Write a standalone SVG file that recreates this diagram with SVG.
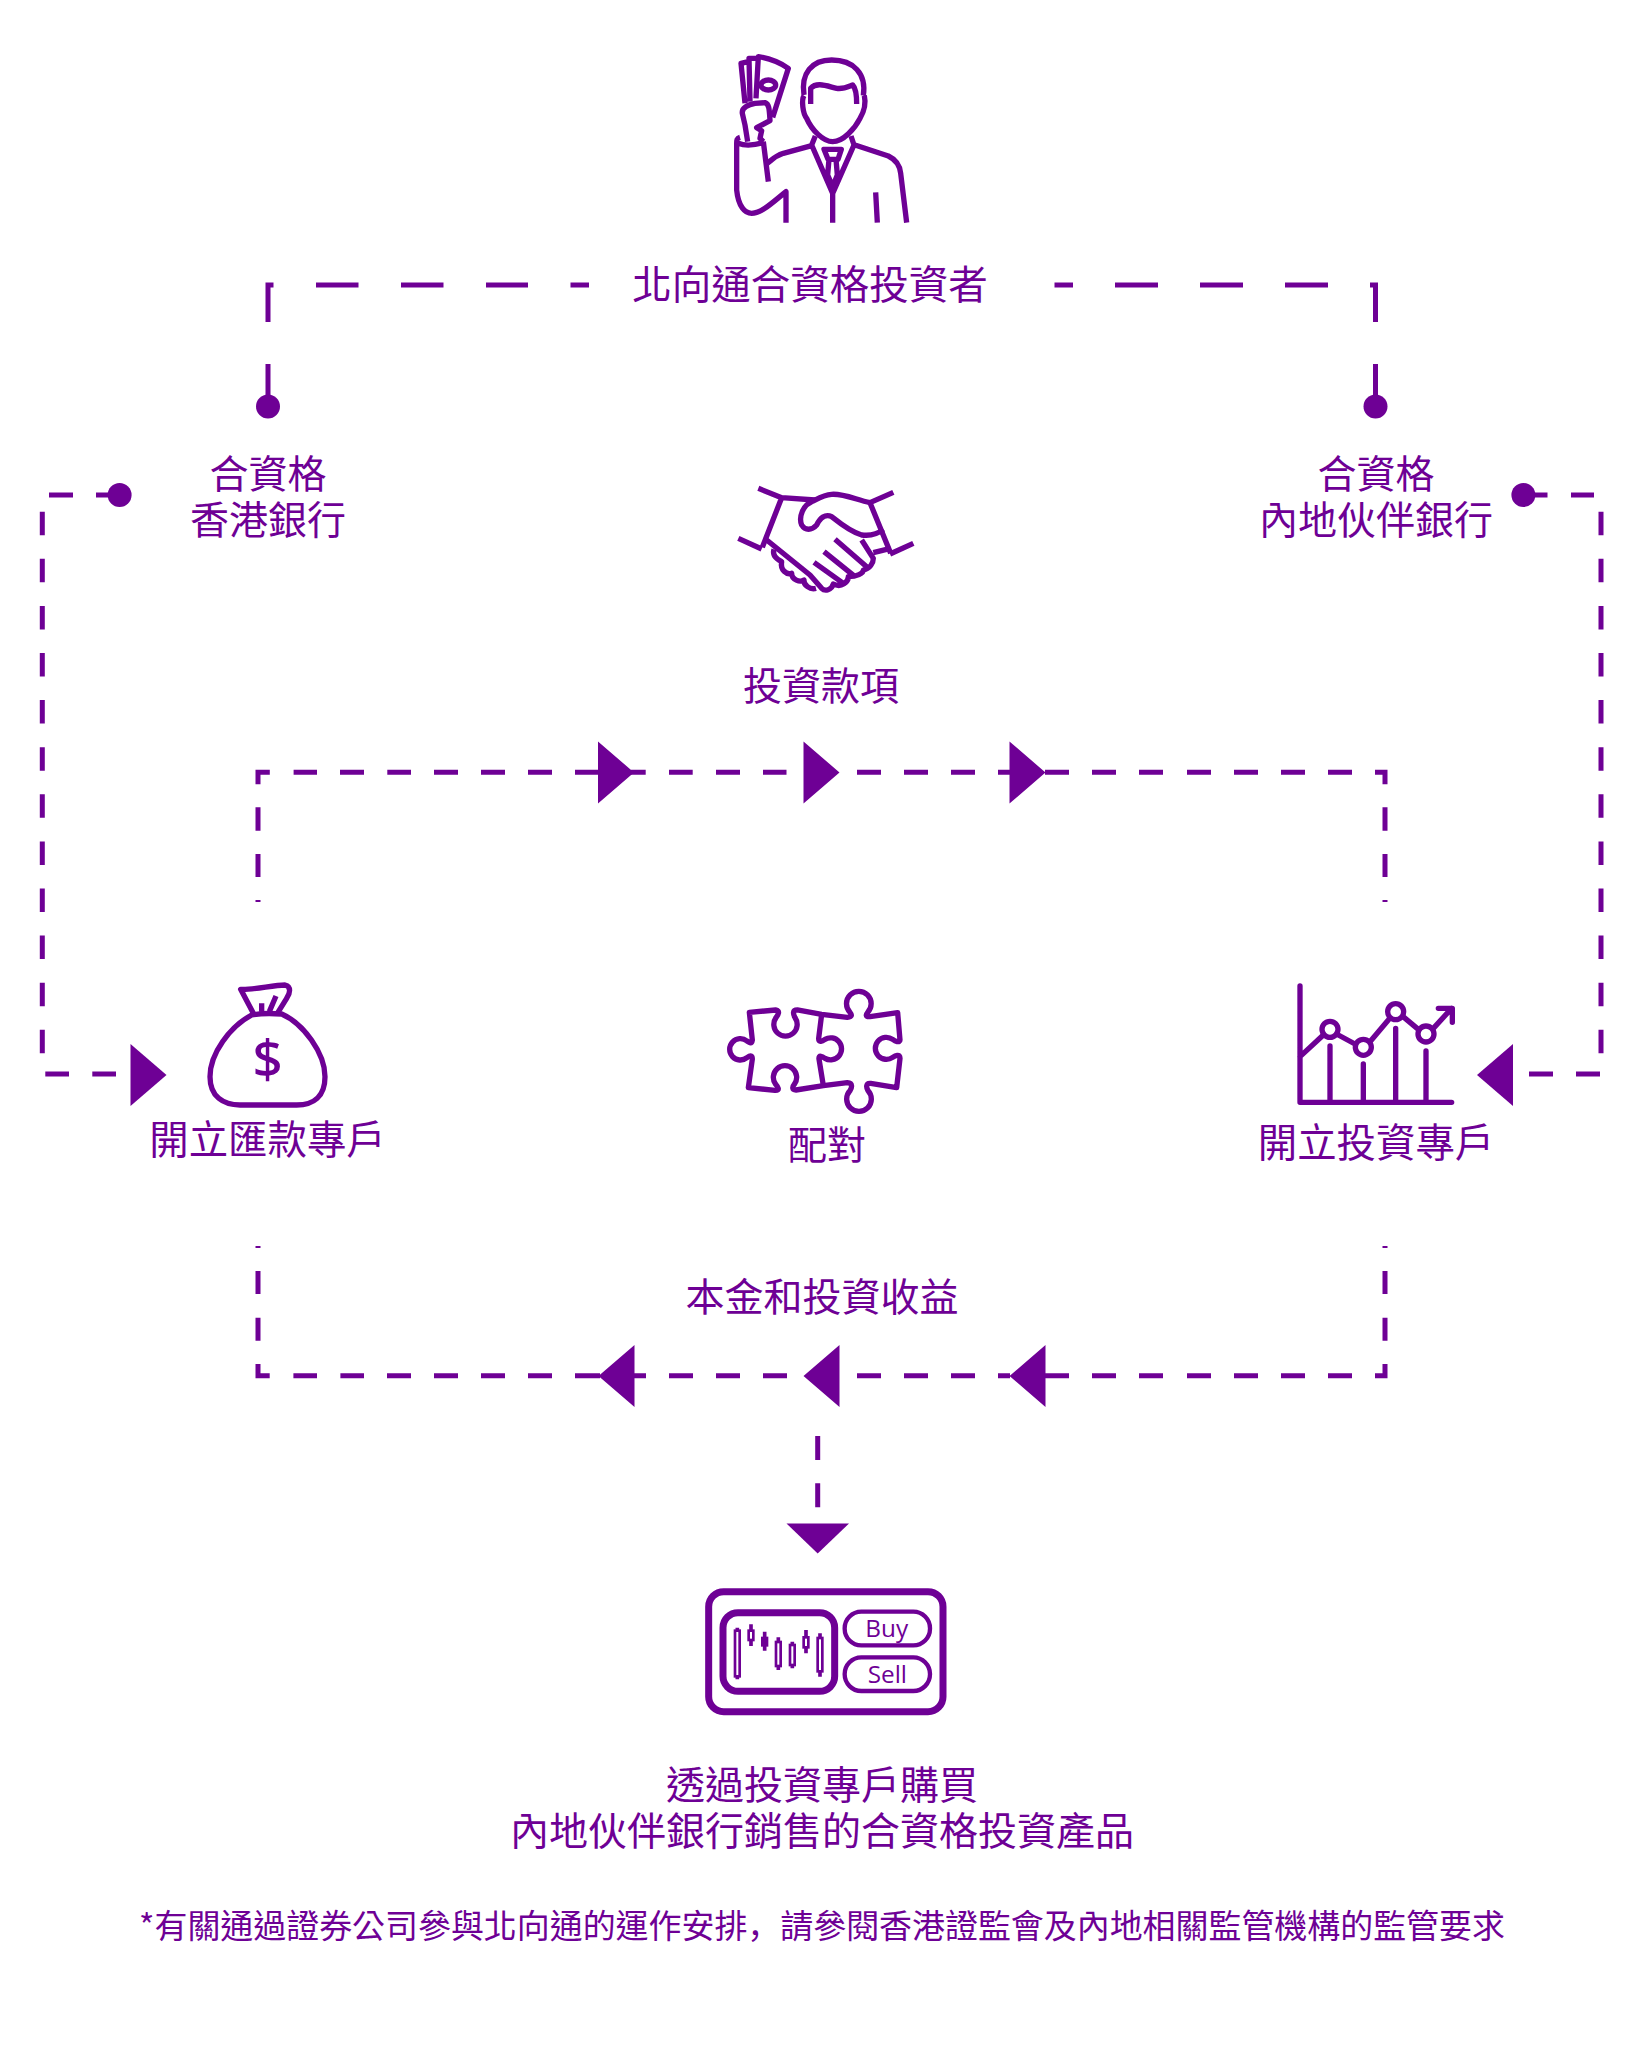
<svg xmlns="http://www.w3.org/2000/svg" width="1649" height="2066" viewBox="0 0 1649 2066">
<style>
text{font-family:"Noto Sans CJK TC","Noto Sans CJK SC",sans-serif;fill:#6e0095;text-anchor:middle;font-size:39px;font-weight:400}
.ic{fill:none;stroke:#6e0095;stroke-width:16;stroke-linejoin:round}
.rc{stroke-linecap:round}
.d{fill:none;stroke:#6e0095;stroke-width:5}
.t,.dot{fill:#6e0095}
.cd{fill:#fff;stroke:#6e0095;stroke-width:8}
.lat{font-family:"Open Sans",sans-serif;font-size:73px}
</style>
<rect width="1649" height="2066" fill="#fff"/>
<g id="connectors">
<path class="d" d="M268 406V364M268 322V285M265.500 285H273.500M316 285H358.500M401 285H443.500M486 285H528M570.500 285H589"/>
<path class="d" d="M1375.500 406V364M1375.500 322V285M1370 285H1378M1054.500 285H1073M1115 285H1158M1200 285H1243M1285 285H1328"/>
<circle class="dot" cx="268" cy="406.500" r="12"/><circle class="dot" cx="1375.500" cy="406.500" r="12"/>
<path class="d" d="M119 495H96M73 495H49M42.300 511.700V535.200M42.300 558.800V582.300M42.300 605.900V629.400M42.300 653V676.500M42.300 700.100V723.600M42.300 747.200V770.700M42.300 794.300V817.800M42.300 841.400V864.900M42.300 888.500V912M42.300 935.600V959.100M42.300 982.700V1006.200M42.300 1029.800V1053.300M45.300 1074H69M92.300 1074H116"/>
<circle class="dot" cx="119.600" cy="495" r="12"/>
<path class="t" d="M130.500 1044L166.500 1075L130.500 1106Z"/>
<path class="d" d="M1523 495H1547.500M1571 495H1594M1601 511.700V535.200M1601 558.800V582.300M1601 605.900V629.400M1601 653V676.500M1601 700.100V723.600M1601 747.200V770.700M1601 794.300V817.800M1601 841.400V864.900M1601 888.500V912M1601 935.600V959.100M1601 982.700V1006.200M1601 1029.800V1053.300M1600 1074H1576M1553 1074H1529"/>
<circle class="dot" cx="1523.400" cy="495" r="12"/>
<path class="t" d="M1513 1044L1477 1075L1513 1106Z"/>
<path class="d" d="M258 902V900M258 877V854M258 830.700V807.300M258 784.300V772.300M255.500 772.300H269.800M293.600 772.300H317M340 772.300H364M387.300 772.300H411M434 772.300H458M481 772.300H505M528 772.300H552M575 772.300H600M631 772.300H645.700M669 772.300H692.700M716 772.300H740M763 772.300H786.500M857 772.300H881M904 772.300H928M951 772.300H975M998 772.300H1010M1045 772.300H1069M1092 772.300H1116M1139 772.300H1163M1187 772.300H1211M1234 772.300H1258M1281 772.300H1305M1328 772.300H1352M1375 772.300H1387.500M1385 772.300V784.300M1385 807.300V830.700M1385 854V877M1385 900V902"/>
<path class="t" d="M598 741.500L634 772.500L598 803.500ZM803.500 741.500L839.500 772.500L803.500 803.500ZM1009.500 741.500L1045.500 772.500L1009.500 803.500Z"/>
<path class="d" d="M258 1246V1248M258 1271V1294M258 1317.700V1340.700M258 1364V1375.700M255.500 1375.700H269.700M293.400 1375.700H317M340.400 1375.700H364M387 1375.700H411M434 1375.700H458M481 1375.700H505M528 1375.700H552M575 1375.700H600M634 1375.700H646M669 1375.700H693M716 1375.700H740M763 1375.700H787M857 1375.700H881M904 1375.700H928M951 1375.700H975M998 1375.700H1010M1045 1375.700H1069M1092 1375.700H1116M1139 1375.700H1163M1187 1375.700H1211M1234 1375.700H1258M1281 1375.700H1305M1328 1375.700H1352M1375 1375.700H1387.500M1385 1375.700V1364M1385 1340.700V1317.700M1385 1294V1271M1385 1248V1246"/>
<path class="t" d="M634.500 1345L598.500 1376L634.500 1407ZM839.500 1345L803.500 1376L839.500 1407ZM1045.500 1345L1009.500 1376L1045.500 1407Z"/>
<path class="d" d="M817.700 1436V1460M817.700 1483.300V1507.300"/>
<path class="t" d="M786.500 1523.500H849L817.700 1553.500Z"/>
</g>
<g id="investor" transform="translate(680 30) scale(.33333)">
<path class="ic" d="M372 195C362 130 395 90 455 90C520 90 560 130 550 197M392 222V175C410 155 440 168 470 175C490 178 505 170 518 165C528 175 530 195 530 222M372 197C364 210 368 250 380 265C395 300 430 335 458 335C490 335 525 295 540 265C555 240 557 215 553 197"/>
<path class="ic" d="M406 318L395 345L458 490L522 345L513 318M395 347L310 370C285 378 275 390 262 400M525 345L625 378C650 390 660 410 662 430L680 578M458 490V578M587 487L592 578M432 358H484L474 388H444ZM447 388L443 435L458 470L472 435L468 388"/>
<path class="ic" d="M180 322C170 325 170 330 170 340V480C175 530 195 550 215 550C245 550 280 515 318 485V578M250 335L265 455M175 340C200 350 225 345 250 338M203 335L195 285L187 250C185 235 200 225 225 220L255 218C268 222 268 240 270 272L230 293L245 302L240 325L250 335"/>
<path class="ic" d="M195 220L183 100L205 95M210 215L207 85L235 85M228 205L235 80C270 85 300 98 325 115L278 262"/><ellipse class="ic" cx="265" cy="165" rx="22" ry="15"/>
</g>
<g id="handshake" transform="translate(700 460) scale(.33333)">
<path class="ic" d="M175 85L245 113M115 235L185 267M245 113L187 262M245 113L345 120M580 97L510 128M640 250L570 282M510 128L572 280"/>
<path class="ic" d="M510 128C470 120 430 100 395 103C370 105 350 118 335 125C310 135 295 170 305 195C315 212 335 212 350 195C360 175 375 160 395 170C420 190 450 215 485 225C510 228 530 225 550 208"/>
<path class="ic" d="M200 240L330 345L365 385C375 395 395 390 400 372C425 385 445 365 445 350C470 350 490 340 490 330C510 325 520 310 520 295L485 240M405 238L500 320M372 275L465 350M342 307L430 370M520 278L572 265"/>
<path class="ic" d="M222 268C215 290 235 300 245 305C240 330 260 345 275 340C275 360 300 368 312 360C310 375 330 390 348 385"/>
</g>
<g id="moneybag" transform="translate(190 970) scale(.33333)">
<path class="ic" d="M185 135C120 170 60 250 60 320C60 380 100 405 150 405H320C370 405 405 380 405 320C405 250 340 160 275 132C250 130 210 130 185 135Z"/>
<path class="ic" d="M190 130L152 58C190 60 250 45 285 45C305 50 300 70 290 85L262 130M215 125V100M238 125L258 78"/>
<text x="233" y="323" style="font-family:'Noto Sans',sans-serif;font-size:158px;font-weight:500">$</text>
</g>
<g id="puzzle" transform="translate(710 975) scale(.33333)">
<path class="ic" d="M118 112L197 105C212 107 204 120 198 128A35 35 0 1 0 255 128C250 118 246 105 262 105L335 118L412 127C428 126 425 118 420 112A37 37 0 1 1 473 112C468 118 465 126 480 125L563 113L570 195C570 205 555 198 548 193A33 33 0 1 0 548 247C555 242 570 235 570 250L560 338L482 325C465 324 470 340 474 347A37 37 0 1 1 420 347C425 340 430 324 412 323L340 332L258 345C245 345 247 335 253 328A35 35 0 1 0 197 328C203 335 212 347 195 346L115 338L127 252C127 238 118 243 111 248A32 32 0 1 1 111 198C118 203 125 208 127 195Z"/>
<path class="ic" d="M335 118L326 190C325 205 338 198 345 193A33 33 0 1 1 345 250C338 245 325 238 327 252L340 332"/>
</g>
<g id="chart" transform="translate(1280 970) scale(.33333)">
<path class="ic rc" d="M60 48V397H515M60 260L130 195M175 195L225 222M270 215L325 150M372 142L415 178M460 175L515 115M475 115H517V157M150 228V397M250 282V397M347 175V397M438 243V397"/>
<circle class="ic" cx="150" cy="178" r="24"/><circle class="ic" cx="250" cy="232" r="24"/><circle class="ic" cx="347" cy="125" r="24"/><circle class="ic" cx="438" cy="192" r="24"/>
</g>
<g id="trading" transform="translate(695 1580) scale(.33333)">
<rect class="ic" style="stroke-width:21" x="41" y="35" width="703" height="360" rx="45"/>
<rect class="ic" style="stroke-width:21" x="84" y="98" width="335" height="236" rx="45"/>
<rect class="ic" style="stroke-width:13" x="449" y="95" width="256" height="101" rx="50"/>
<rect class="ic" style="stroke-width:13" x="449" y="232" width="256" height="101" rx="50"/>
<path class="ic" style="stroke-width:11" d="M127 143V298M168 133V198M209 155V212M250 172V270M292 185V265M333 150V220M375 160V290"/>
<rect class="cd" x="120" y="152" width="14" height="137"/><rect class="cd" x="161" y="152" width="14" height="28"/><rect class="cd" style="fill:#6e0095" x="202" y="174" width="14" height="22"/><rect class="cd" x="243" y="186" width="14" height="72"/><rect class="cd" x="285" y="195" width="14" height="60"/><rect class="cd" x="326" y="172" width="14" height="30"/><rect class="cd" x="368" y="174" width="14" height="100"/>
<text class="lat" x="575" y="170">Buy</text>
<text class="lat" x="577" y="310">Sell</text>
</g>
<g id="label-investor"><text x="810" y="299" style="font-size:39.500px">北向通合資格投資者</text></g>
<g id="label-hk-bank"><text x="268" y="488">合資格</text><text x="268" y="534">香港銀行</text></g>
<g id="label-mainland-bank"><text x="1376" y="488">合資格</text><text x="1376" y="534">內地伙伴銀行</text></g>
<g id="label-funds"><text x="821" y="700">投資款項</text></g>
<g id="label-remit"><text x="267.500" y="1154" style="font-size:39.400px">開立匯款專戶</text></g>
<g id="label-match"><text x="827" y="1159">配對</text></g>
<g id="label-invest-acct"><text x="1376" y="1156.500" style="font-size:39.400px">開立投資專戶</text></g>
<g id="label-return"><text x="822" y="1311">本金和投資收益</text></g>
<g id="label-buy"><text x="822" y="1799">透過投資專戶購買</text><text x="822" y="1845">內地伙伴銀行銷售的合資格投資產品</text></g>
<g id="footnote"><text x="822" y="1938" style="font-size:32.950px">*有關通過證券公司參與北向通的運作安排<tspan style="font-family:'Noto Sans CJK SC',sans-serif">，</tspan>請參閱香港證監會及內地相關監管機構的監管要求</text></g>
</svg>
